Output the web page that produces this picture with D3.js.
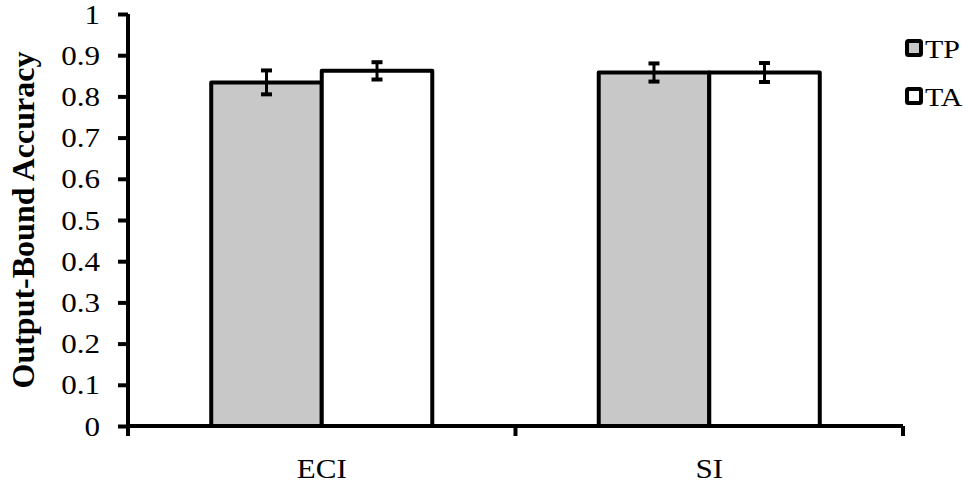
<!DOCTYPE html>
<html>
<head>
<meta charset="utf-8">
<script src="https://cdn.jsdelivr.net/npm/d3@7"></script>
<style>
  body { margin: 0; background: #fff; }
  text { font-family: "Liberation Serif", "Times New Roman", serif; fill: #000; }
</style>
</head>
<body>
<svg id="chart" width="974" height="496"></svg>
<script>
// data
var categories = ["ECI", "SI"];
var series = ["TP", "TA"];
var tpValues = [0.834, 0.858];
var taValues = [0.862, 0.858];
var tpErrors = [0.029, 0.022];
var taErrors = [0.021, 0.023];
var yTicks = [0, 0.1, 0.2, 0.3, 0.4, 0.5, 0.6, 0.7, 0.8, 0.9, 1];
var seriesFill = { TP: "#c8c8c8", TA: "#ffffff" };

var svg = d3.select("#chart");
var stretchX = 1.15; // glyphs in the reference are wider than tall

function stretch(sel) {
  sel.each(function() {
    var len = this.getComputedTextLength();
    d3.select(this).attr("textLength", len * stretchX).attr("lengthAdjust", "spacingAndGlyphs");
  });
}

var x0 = d3.scaleBand().domain(categories).range([128, 903]).paddingInner(0).paddingOuter(0);
var x1 = d3.scaleBand().domain(series).range([0, x0.bandwidth()]).paddingInner(0).paddingOuter(0.753);
var y = d3.scaleLinear().domain([0, 1]).range([426, 14]);

var rows = [];
categories.forEach(function(c, i) {
  rows.push({cat: c, s: "TP", v: tpValues[i], e: tpErrors[i]});
  rows.push({cat: c, s: "TA", v: taValues[i], e: taErrors[i]});
});
function cx(d) { return x0(d.cat) + x1(d.s) + x1.bandwidth() / 2; }

// bars
svg.append("g").selectAll("rect")
   .data(rows)
   .enter()
   .append("rect")
   .attr("x", function(d) { return x0(d.cat) + x1(d.s); })
   .attr("y", function(d) { return y(d.v); })
   .attr("width", x1.bandwidth())
   .attr("height", function(d) { return y(0) - y(d.v); })
   .attr("fill", function(d) { return seriesFill[d.s]; })
   .attr("stroke", "#000")
   .attr("stroke-width", 4)
   .attr("stroke-linejoin", "round");

// error bars
var eb = svg.append("g").selectAll("g")
   .data(rows)
   .enter()
   .append("g")
   .attr("stroke", "#000");
eb.append("line")
  .attr("x1", cx).attr("x2", cx)
  .attr("y1", function(d) { return y(d.v + d.e); })
  .attr("y2", function(d) { return y(d.v - d.e); })
  .attr("stroke-width", 3);
[1, -1].forEach(function(sign) {
  eb.append("line")
    .attr("x1", function(d) { return cx(d) - 5.5; })
    .attr("x2", function(d) { return cx(d) + 5.5; })
    .attr("y1", function(d) { return y(d.v + sign * d.e); })
    .attr("y2", function(d) { return y(d.v + sign * d.e); })
    .attr("stroke-width", 4);
});

// y axis
var yAxis = svg.append("g")
   .attr("transform", "translate(128,0)")
   .call(d3.axisLeft(y).tickValues(yTicks).tickSize(10).tickPadding(18).tickFormat(d3.format("")));
yAxis.select(".domain").attr("stroke-width", 4).attr("d", "M0," + y(1) + "V" + y(0));
yAxis.selectAll(".tick line").attr("stroke-width", 4);
yAxis.selectAll(".tick text").attr("font-size", 27).attr("dy", "0.34em").call(stretch);

// x axis
var xAxis = svg.append("g")
   .attr("transform", "translate(0,426)")
   .call(d3.axisBottom(x0).tickSize(0).tickPadding(0));
xAxis.select(".domain").attr("stroke-width", 4).attr("d", "M126,0H903");
xAxis.selectAll(".tick text").attr("font-size", 27).attr("dy", 0).attr("y", 52).call(stretch);
// boundary ticks between categories
var bounds = [x0.range()[0], x0(categories[1]), x0.range()[1]];
xAxis.selectAll(".bound")
     .data(bounds)
     .enter()
     .append("line")
     .attr("x1", function(d) { return d; })
     .attr("x2", function(d) { return d; })
     .attr("y1", 0)
     .attr("y2", 10)
     .attr("stroke", "#000")
     .attr("stroke-width", 4);

// y title
svg.append("text")
   .attr("transform", "translate(34,220) rotate(-90)")
   .attr("text-anchor", "middle")
   .attr("font-size", 32)
   .attr("font-weight", "bold")
   .text("Output-Bound Accuracy");

// legend
var legend = svg.append("g").selectAll("g")
   .data(series)
   .enter()
   .append("g")
   .attr("transform", function(d, i) { return "translate(907," + (41 + i * 48) + ")"; });
legend.append("rect")
      .attr("width", 14)
      .attr("height", 14)
      .attr("fill", function(d) { return seriesFill[d]; })
      .attr("stroke", "#000")
      .attr("stroke-width", 4)
      .attr("rx", 1.5);
legend.append("text")
      .attr("x", 18)
      .attr("y", 17)
      .attr("font-size", 26)
      .text(function(d) { return d; })
      .call(stretch);
</script>
</body>
</html>
